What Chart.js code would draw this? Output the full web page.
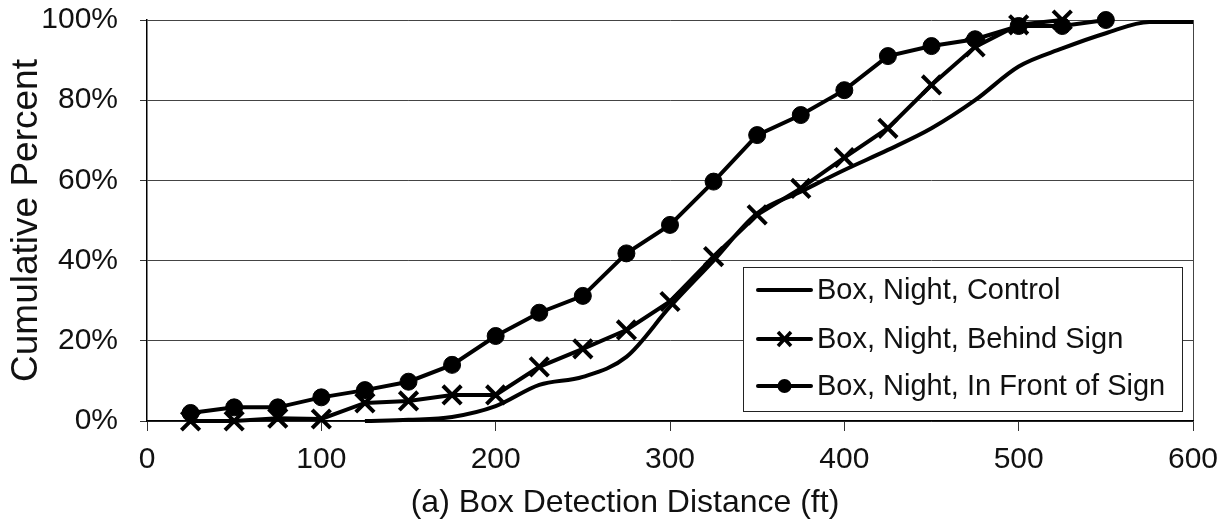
<!DOCTYPE html>
<html>
<head>
<meta charset="utf-8">
<script src="https://cdn.jsdelivr.net/npm/chart.js@4/dist/chart.umd.min.js"></script>
<style>
  html, body { margin: 0; padding: 0; background: #fff; }
  #wrap { position: relative; width: 1228px; height: 522px; }
</style>
</head>
<body>
<div id="wrap"><canvas id="c" width="1228" height="522"></canvas></div>
<script>
// ---- Data ----
const distances = [25, 50, 75, 100, 125, 150, 175, 200, 225, 250, 275, 300, 325, 350, 375, 400, 425, 450, 475, 500, 525, 550, 575, 600];
const controlPct = [null, null, null, null, 0, 0.3, 1, 3.7, 9, 11, 16, 28.5, 40, 51.8, 57.2, 62.6, 67.6, 73, 80, 88.4, 92.9, 96.7, 99.5, 99.5];
const behindPct = [0, 0, 0.7, 0.5, 4.5, 5, 6.5, 6.5, 13.5, 18, 22.7, 29.8, 41, 51.4, 58, 65.7, 73, 83.8, 93.3, 98.8, 100, null, null, null];
const frontPct = [2, 3.4, 3.4, 5.9, 7.7, 9.8, 14, 21.2, 27, 31.2, 41.8, 48.9, 59.7, 71.3, 76.3, 82.5, 91, 93.5, 95.2, 98.5, 98.5, 100, null, null];
const seriesNames = ["Box, Night, Control", "Box, Night, Behind Sign", "Box, Night, In Front of Sign"];
const xTickValues = [0, 100, 200, 300, 400, 500, 600];
const yTickValues = [0, 20, 40, 60, 80, 100];
const xTitle = "(a) Box Detection Distance (ft)";
const yTitle = "Cumulative Percent";

const FONT = "'Liberation Sans', Arial, sans-serif";

function toPoints(vals) {
  const out = [];
  vals.forEach((v, i) => { if (v !== null) out.push({ x: distances[i], y: v }); });
  return out;
}

const legendPlugin = {
  id: 'boxLegend',
  afterDraw(chart) {
    const ctx = chart.ctx;
    // x-axis title (offset left of plot centre as in the reference)
    ctx.save();
    ctx.fillStyle = '#111';
    ctx.font = '32px ' + FONT;
    ctx.textAlign = 'center';
    ctx.textBaseline = 'middle';
    ctx.fillText(xTitle, 625, 503);
    ctx.restore();

    const x0 = 743, y0 = 267, w = 439, h = 144;
    ctx.save();
    ctx.fillStyle = '#fff';
    ctx.fillRect(x0, y0, w, h);
    ctx.strokeStyle = '#222';
    ctx.lineWidth = 1;
    ctx.strokeRect(x0 + 0.5, y0 + 0.5, w, h);
    const rows = [290, 339, 386];
    chart.data.datasets.forEach((ds, i) => {
      const y = rows[i];
      ctx.strokeStyle = '#000';
      ctx.lineWidth = 4;
      ctx.lineCap = 'round';
      ctx.beginPath();
      ctx.moveTo(758, y);
      ctx.lineTo(811, y);
      ctx.stroke();
      ctx.fillStyle = '#000';
      ctx.strokeStyle = '#000';
      if (ds.pointStyle === 'circle') {
        ctx.beginPath(); ctx.arc(784.5, y, 7, 0, Math.PI * 2); ctx.fill();
      } else if (ds.pointStyle === 'crossRot') {
        ctx.lineWidth = 3.5; ctx.lineCap = 'butt';
        ctx.beginPath();
        ctx.moveTo(778, y - 7); ctx.lineTo(791, y + 7);
        ctx.moveTo(791, y - 7); ctx.lineTo(778, y + 7);
        ctx.stroke();
      }
      ctx.fillStyle = '#111';
      ctx.font = '29px ' + FONT;
      ctx.textBaseline = 'middle';
      ctx.textAlign = 'left';
      ctx.fillText(ds.label, 817, y + 1);
    });
    ctx.restore();
  }
};

new Chart(document.getElementById('c'), {
  type: 'line',
  data: {
    datasets: [
      {
        label: seriesNames[0],
        data: toPoints(controlPct),
        borderColor: '#000', backgroundColor: '#000',
        borderWidth: 4, pointRadius: 0, pointHoverRadius: 0,
        cubicInterpolationMode: 'monotone', clip: false
      },
      {
        label: seriesNames[1],
        data: toPoints(behindPct),
        borderColor: '#000', backgroundColor: '#000',
        borderWidth: 4, pointStyle: 'crossRot', pointRadius: 13,
        pointBorderWidth: 4, pointBorderColor: '#000',
        tension: 0, clip: false
      },
      {
        label: seriesNames[2],
        data: toPoints(frontPct),
        borderColor: '#000', backgroundColor: '#000',
        borderWidth: 4, pointStyle: 'circle', pointRadius: 8.5,
        pointBorderWidth: 1, pointBackgroundColor: '#000', pointBorderColor: '#000',
        tension: 0, clip: false
      }
    ]
  },
  options: {
    responsive: false,
    animation: false,
    devicePixelRatio: 1,
    layout: { padding: 0 },
    plugins: { legend: { display: false }, tooltip: { enabled: false } },
    scales: {
      x: {
        type: 'linear', min: 0, max: 600,
        afterFit(s) { s.height = 101; s.paddingLeft = 0; s.paddingRight = 35; },
        afterBuildTicks(s) { s.ticks = xTickValues.map(v => ({ value: v })); },
        ticks: { color: '#111', font: { family: FONT, size: 30 }, padding: 11, maxRotation: 0 },
        grid: {
          color: c => (c.tick && c.tick.value === 600 ? '#444' : 'rgba(0,0,0,0)'),
          tickColor: '#333', tickLength: 10, lineWidth: 1
        },
        border: { color: '#000', width: 1.5 },
        title: { display: false }
      },
      y: {
        type: 'linear', min: 0, max: 100,
        afterFit(s) { s.width = 147; s.paddingTop = 20; s.paddingBottom = 0; },
        afterBuildTicks(s) { s.ticks = yTickValues.map(v => ({ value: v })); },
        ticks: { color: '#111', font: { family: FONT, size: 30 }, padding: 22, callback: v => v + '%' },
        grid: { color: '#444', tickColor: '#333', tickLength: 7, lineWidth: 1 },
        border: { color: '#000', width: 1.5 },
        title: { display: true, text: yTitle, color: '#111', font: { family: FONT, size: 37, lineHeight: 1.2 }, padding: { top: 5, bottom: 0 } }
      }
    }
  },
  plugins: [legendPlugin]
});
</script>
</body>
</html>
